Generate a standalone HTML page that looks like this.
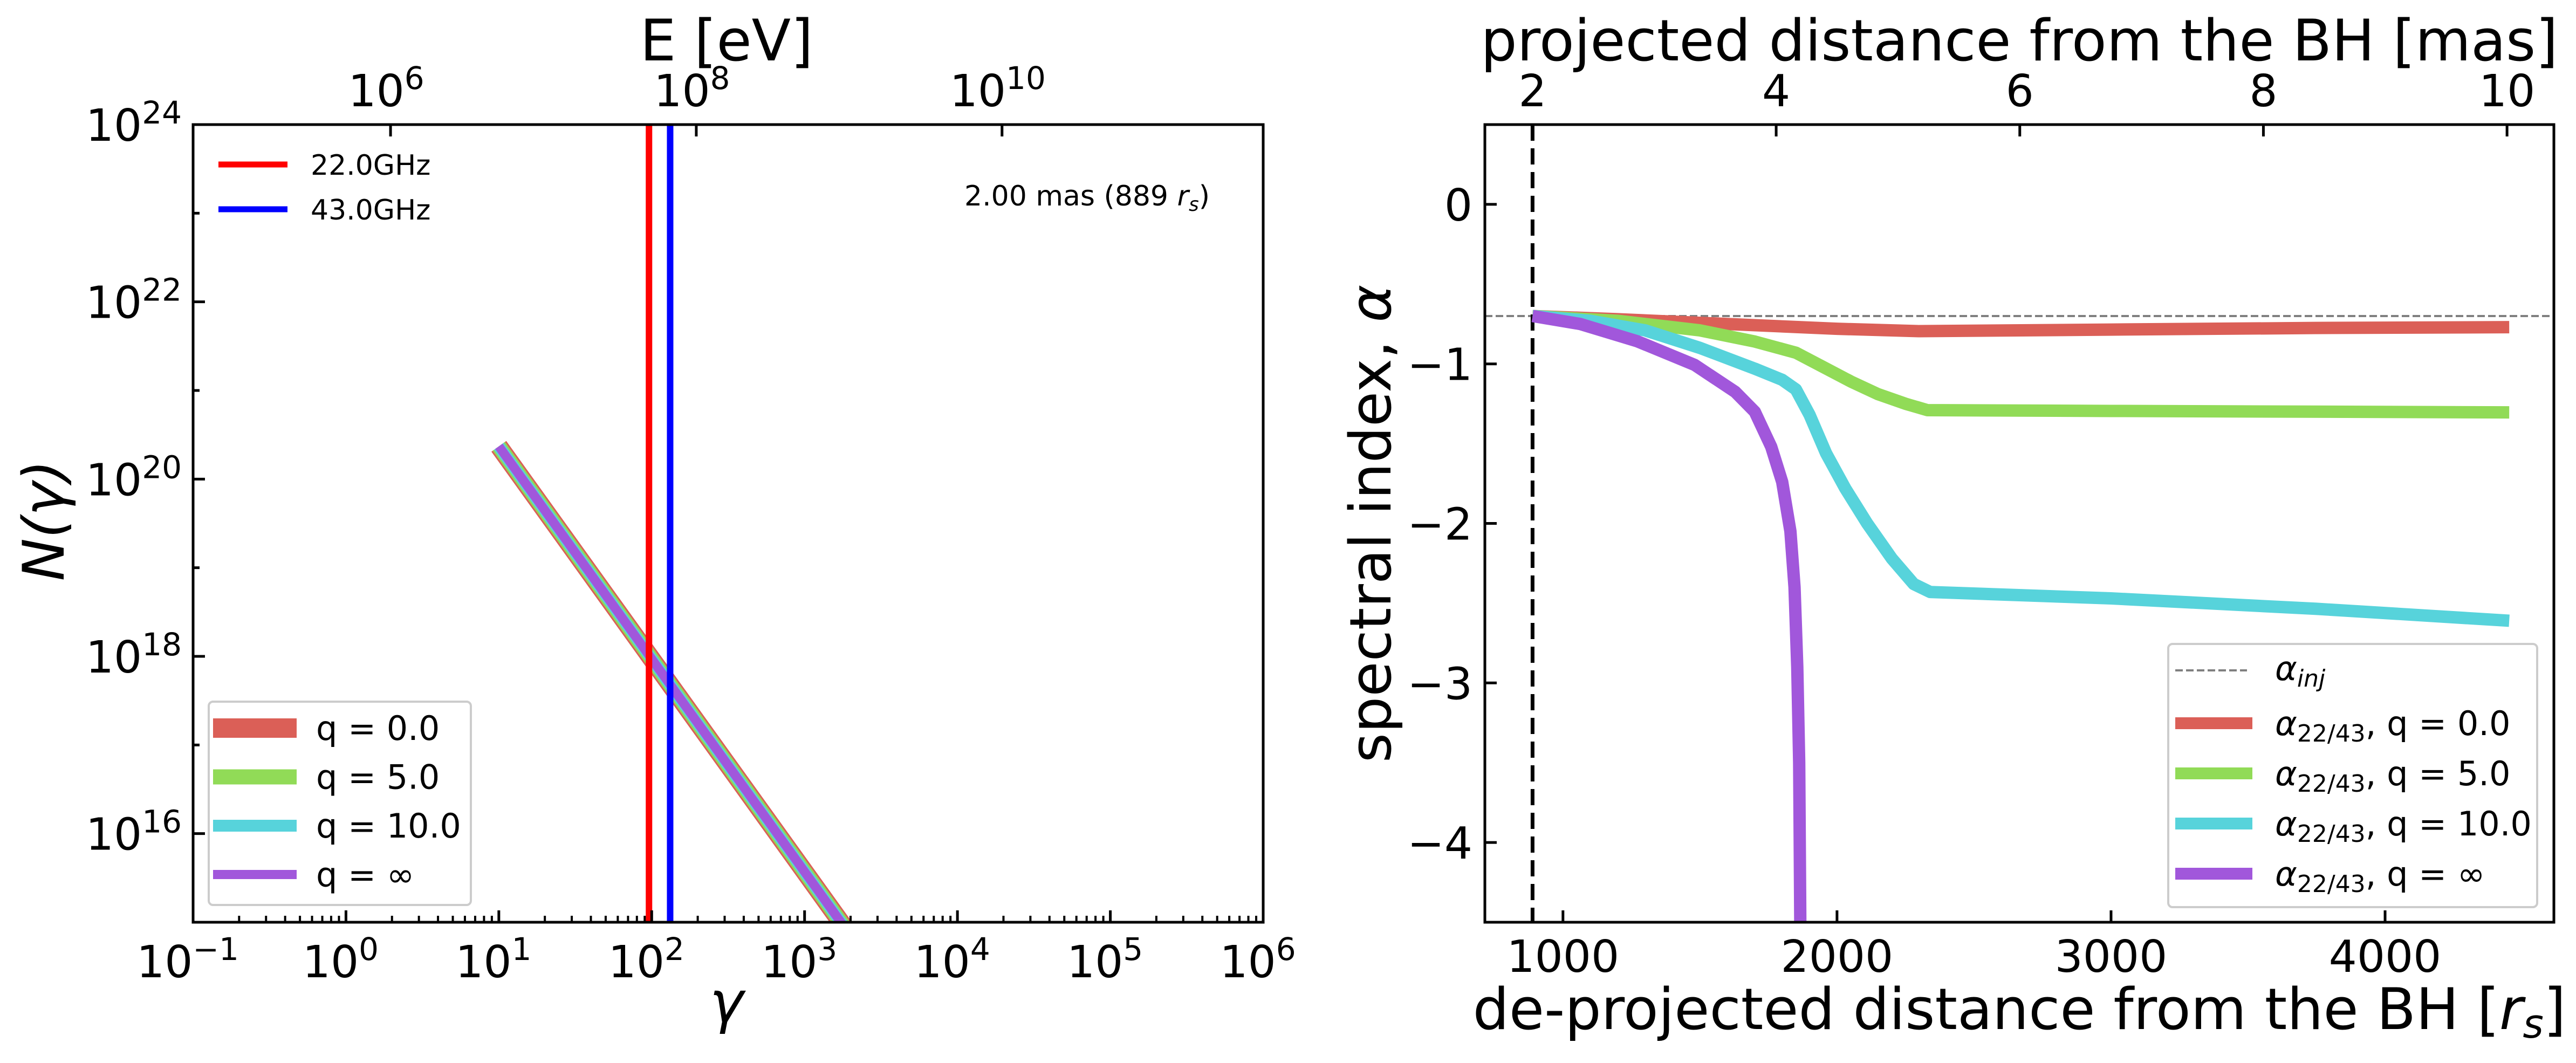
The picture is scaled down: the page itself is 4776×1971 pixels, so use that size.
<!DOCTYPE html>
<html><head><meta charset="utf-8"><style>
html,body{margin:0;padding:0;background:#fff;}
svg{display:block;font-family:"DejaVu Sans","Liberation Sans",sans-serif;}
</style></head><body>
<svg id="fig" width="4776" height="1971" viewBox="0 0 4776 1971" xmlns="http://www.w3.org/2000/svg">
<g id="L"></g>
<g id="R"></g>
</svg>
<script>
// ---------- Left panel data ----------
const freqLabels = ["22.0GHz", "43.0GHz"];
const freqGamma = [96, 132];
const freqColors = ["#ff0000", "#0000ff"];
const qLabels = ["q = 0.0", "q = 5.0", "q = 10.0", "q = \u221e"];
const qColors = ["#db5f57", "#91db57", "#57d3db", "#a157db"];
const spectrumGamma = [10, 2000];
const spectrumStartN = 20.37; // log10 N at gamma=10
const spectrumIndex = 2.4;
const xTicksLeft = [-1, 0, 1, 2, 3, 4, 5, 6];
const yTicksLeft = [16, 18, 20, 22, 24];
const eTicks = [6, 8, 10];

// ---------- Right panel data ----------
const redX = [889, 1200, 1600, 2000, 2300, 3000, 3746, 4453];
const redY = [-0.70, -0.72, -0.75, -0.78, -0.795, -0.785, -0.775, -0.77];
const greenX = [889, 1200, 1500, 1700, 1850, 1950, 2050, 2150, 2250, 2330, 3000, 4453];
const greenY = [-0.70, -0.73, -0.79, -0.86, -0.93, -1.02, -1.11, -1.19, -1.25, -1.29, -1.295, -1.304];
const cyanX = [889, 1100, 1300, 1500, 1700, 1800, 1850, 1900, 1960, 2030, 2110, 2200, 2280, 2340, 3000, 3746, 4453];
const cyanY = [-0.70, -0.73, -0.79, -0.90, -1.03, -1.10, -1.16, -1.32, -1.56, -1.78, -2.00, -2.22, -2.38, -2.43, -2.47, -2.535, -2.61];
const purpleX = [889, 1063, 1271, 1480, 1629, 1700, 1760, 1800, 1830, 1845, 1855, 1862, 1866, 1868];
const purpleY = [-0.70, -0.75, -0.858, -1.006, -1.176, -1.30, -1.52, -1.74, -2.05, -2.4, -2.9, -3.5, -4.49, -5.0];
const alphaInj = -0.7;
const startRs = 889;
const xTicksRight = [1000, 2000, 3000, 4000];
const yTicksRight = [0, -1, -2, -3, -4];
const masTicks = [2, 4, 6, 8, 10];
const rsPerMas = 444.5;

const NS = "http://www.w3.org/2000/svg";
function mk(parent, tag, attrs, text) {
  const e = document.createElementNS(NS, tag);
  for (const k in attrs) e.setAttribute(k, attrs[k]);
  if (text !== undefined) e.textContent = text;
  parent.appendChild(e);
  return e;
}
const minus = "\u2212";

// ================= LEFT =================
const L = document.getElementById("L");
const lx0 = 358, lx1 = 2342, ly0 = 231, ly1 = 1710;
const lxs = lg => lx0 + (lg + 1) / 7 * (lx1 - lx0);
const lys = lg => ly0 + (24 - lg) / 9 * (ly1 - ly0);

const defs = mk(document.getElementById("fig"), "defs", {});
const cpL = mk(defs, "clipPath", {id: "cpL"});
mk(cpL, "rect", {x: lx0, y: ly0, width: lx1 - lx0, height: ly1 - ly0});
const cpR = mk(defs, "clipPath", {id: "cpR"});

const lplot = mk(L, "g", {"clip-path": "url(#cpL)"});



const widths = [34, 28, 22, 17];
qColors.forEach((c, i) => {
  const g0 = Math.log10(spectrumGamma[0]), g1 = Math.log10(spectrumGamma[1]);
  const n0 = spectrumStartN, n1 = spectrumStartN - spectrumIndex * (g1 - 1);
  const ln = mk(lplot, "line", {x1: lxs(g0), y1: lys(n0), x2: lxs(g1), y2: lys(n1), stroke: c, "stroke-width": widths[i]});
  
  
});
freqGamma.forEach((g, i) => {
  const x = lxs(Math.log10(g));
  const ln = mk(lplot, "line", {x1: x, y1: ly0, x2: x, y2: ly1, stroke: freqColors[i], "stroke-width": 12});
  
  
});

xTicksLeft.forEach(t => {
  const x = lxs(t);
  mk(L, "line", {x1: x, y1: ly1, x2: x, y2: ly1 - 22, stroke: "#000", "stroke-width": 5});
  if (t < 6) for (let m = 2; m < 10; m++) {
    const xm = lxs(t + Math.log10(m));
    mk(L, "line", {x1: xm, y1: ly1, x2: xm, y2: ly1 - 12, stroke: "#000", "stroke-width": 4});
  }
  const tx = mk(L, "text", {x: x - 10, y: 1812, "font-size": 82, "text-anchor": "middle"});
  
  
  mk(tx, "tspan", {}, "10");
  mk(tx, "tspan", {dy: -32, "font-size": 58}, (t < 0 ? minus : "") + Math.abs(t));
});
for (let v = 15; v <= 24; v++) {
  const y = lys(v);
  mk(L, "line", {x1: lx0, y1: y, x2: lx0 + (v % 2 === 0 ? 22 : 12), y2: y, stroke: "#000", "stroke-width": 5});
}
yTicksLeft.forEach(v => {
  const y = lys(v);
  const tx = mk(L, "text", {x: 337, y: y + 30, "font-size": 82, "text-anchor": "end"});
  
  
  mk(tx, "tspan", {}, "10");
  mk(tx, "tspan", {dy: -32, "font-size": 58}, String(v));
});
const me = Math.log10(511e3);
eTicks.forEach(t => {
  const x = lxs(t - me);
  mk(L, "line", {x1: x, y1: ly0, x2: x, y2: ly0 + 22, stroke: "#000", "stroke-width": 5});
  const tx = mk(L, "text", {x: x - 8, y: 197, "font-size": 82, "text-anchor": "middle"});
  
  
  mk(tx, "tspan", {}, "10");
  mk(tx, "tspan", {dy: -32, "font-size": 58}, String(t));
});
mk(L, "rect", {x: lx0, y: ly0, width: lx1 - lx0, height: ly1 - ly0, fill: "none", stroke: "#000", "stroke-width": 5});

let t;
t = mk(L, "text", {x: 1347, y: 1895, "font-size": 106, "text-anchor": "middle", "font-style": "italic"}, "\u03b3");
 
t = mk(L, "text", {x: 0, y: 0, "font-size": 106, "text-anchor": "middle", "font-style": "italic", transform: "translate(118,965) rotate(-90)"}, "N(\u03b3)");
 
t = mk(L, "text", {x: 1347, y: 112, "font-size": 106, "text-anchor": "middle"}, "E [eV]");
 
t = mk(L, "text", {x: 2243, y: 381, "font-size": 52, "text-anchor": "end"});
 
mk(t, "tspan", {}, "2.00 mas (889 ");
mk(t, "tspan", {"font-style": "italic"}, "r");
mk(t, "tspan", {"font-style": "italic", "font-size": 36, dy: 10}, "s");
mk(t, "tspan", {dy: -10}, ")");

freqLabels.forEach((lab, i) => {
  const y = 305 + i * 83;
  const g = mk(L, "g", {});
  
  
  mk(g, "line", {x1: 405, y1: y, x2: 533, y2: y, stroke: freqColors[i], "stroke-width": 11});
  mk(g, "text", {x: 576, y: y + 19, "font-size": 52}, lab);
});
const lg = mk(L, "g", {});


mk(lg, "rect", {x: 387, y: 1301, width: 486, height: 377, rx: 8, fill: "#fff", "fill-opacity": 0.8, stroke: "#cccccc", "stroke-width": 4});
const legW = [36, 28, 22, 17];
qLabels.forEach((lab, i) => {
  const y = 1350 + i * 90.5;
  const g = mk(lg, "g", {});
  
  
  mk(g, "line", {x1: 395, y1: y, x2: 550, y2: y, stroke: qColors[i], "stroke-width": legW[i]});
  mk(g, "text", {x: 586, y: y + 22, "font-size": 62}, lab);
});

// ================= RIGHT =================
const R = document.getElementById("R");
const rx0 = 2753, rx1 = 4735, ry0 = 231, ry1 = 1710;
const xmin = 715, xmax = 4616, ymin = -4.5, ymax = 0.5;
const rxs = v => rx0 + (v - xmin) / (xmax - xmin) * (rx1 - rx0);
const rys = v => ry0 + (ymax - v) / (ymax - ymin) * (ry1 - ry0);
mk(cpR, "rect", {x: rx0, y: ry0, width: rx1 - rx0, height: ry1 - ry0});

const rplot = mk(R, "g", {"clip-path": "url(#cpR)"});



let e = mk(rplot, "line", {x1: rx0, y1: rys(alphaInj), x2: rx1, y2: rys(alphaInj), stroke: "#808080", "stroke-width": 4, "stroke-dasharray": "14 6"});
 
e = mk(rplot, "line", {x1: rxs(startRs), y1: ry0, x2: rxs(startRs), y2: ry1, stroke: "#000", "stroke-width": 7, "stroke-dasharray": "30 14"});
 

const series = [[redX, redY], [greenX, greenY], [cyanX, cyanY], [purpleX, purpleY]];
series.forEach((s, i) => {
  const pts = s[0].map((x, k) => rxs(x) + "," + rys(s[1][k])).join(" ");
  const p = mk(rplot, "polyline", {points: pts, fill: "none", stroke: qColors[i], "stroke-width": 23, "stroke-linejoin": "round"});
  
  
});

xTicksRight.forEach(v => {
  const x = rxs(v);
  mk(R, "line", {x1: x, y1: ry1, x2: x, y2: ry1 - 22, stroke: "#000", "stroke-width": 5});
  const tx = mk(R, "text", {x: x, y: 1802, "font-size": 82, "text-anchor": "middle"}, String(v));
   
});
yTicksRight.forEach(v => {
  const y = rys(v);
  mk(R, "line", {x1: rx0, y1: y, x2: rx0 + 22, y2: y, stroke: "#000", "stroke-width": 5});
  const tx = mk(R, "text", {x: 2730, y: y + 30, "font-size": 82, "text-anchor": "end"}, (v < 0 ? minus : "") + Math.abs(v));
   
});
masTicks.forEach(v => {
  const x = rxs(v * rsPerMas);
  mk(R, "line", {x1: x, y1: ry0, x2: x, y2: ry0 + 22, stroke: "#000", "stroke-width": 5});
  const tx = mk(R, "text", {x: x, y: 197, "font-size": 82, "text-anchor": "middle"}, String(v));
   
});
mk(R, "rect", {x: rx0, y: ry0, width: rx1 - rx0, height: ry1 - ry0, fill: "none", stroke: "#000", "stroke-width": 5});

t = mk(R, "text", {x: 3744, y: 1908, "font-size": 106, "text-anchor": "middle"});
 
mk(t, "tspan", {}, "de-projected distance from the BH [");
mk(t, "tspan", {"font-style": "italic"}, "r");
mk(t, "tspan", {"font-style": "italic", "font-size": 74, dy: 16}, "s");
mk(t, "tspan", {dy: -16}, "]");
t = mk(R, "text", {x: 3744, y: 112, "font-size": 106, "text-anchor": "middle"}, "projected distance from the BH [mas]");
 
t = mk(R, "text", {x: 0, y: 0, "font-size": 106, "text-anchor": "middle", transform: "translate(2578,971) rotate(-90)"});
 
mk(t, "tspan", {}, "spectral index, ");
mk(t, "tspan", {"font-style": "italic"}, "\u03b1");

const rg = mk(R, "g", {});


mk(rg, "rect", {x: 4020, y: 1194, width: 684, height: 488, rx: 8, fill: "#fff", "fill-opacity": 0.8, stroke: "#cccccc", "stroke-width": 4});
let ge = mk(rg, "g", {});
 
mk(ge, "line", {x1: 4033, y1: 1243, x2: 4166, y2: 1243, stroke: "#808080", "stroke-width": 4, "stroke-dasharray": "14 6"});
let tt = mk(ge, "text", {x: 4218, y: 1261, "font-size": 62, "font-style": "italic"});
mk(tt, "tspan", {}, "\u03b1");
mk(tt, "tspan", {"font-size": 44, dy: 12}, "inj");
qLabels.forEach((lab, i) => {
  const y = 1341 + i * 93;
  const g = mk(rg, "g", {});
  
  
  mk(g, "line", {x1: 4033, y1: y, x2: 4176, y2: y, stroke: qColors[i], "stroke-width": 22});
  const tx = mk(g, "text", {x: 4218, y: y + 22, "font-size": 62});
  mk(tx, "tspan", {"font-style": "italic"}, "\u03b1");
  mk(tx, "tspan", {"font-size": 44, dy: 12}, "22/43");
  mk(tx, "tspan", {dy: -12}, ", " + lab);
});
</script>
</body></html>
